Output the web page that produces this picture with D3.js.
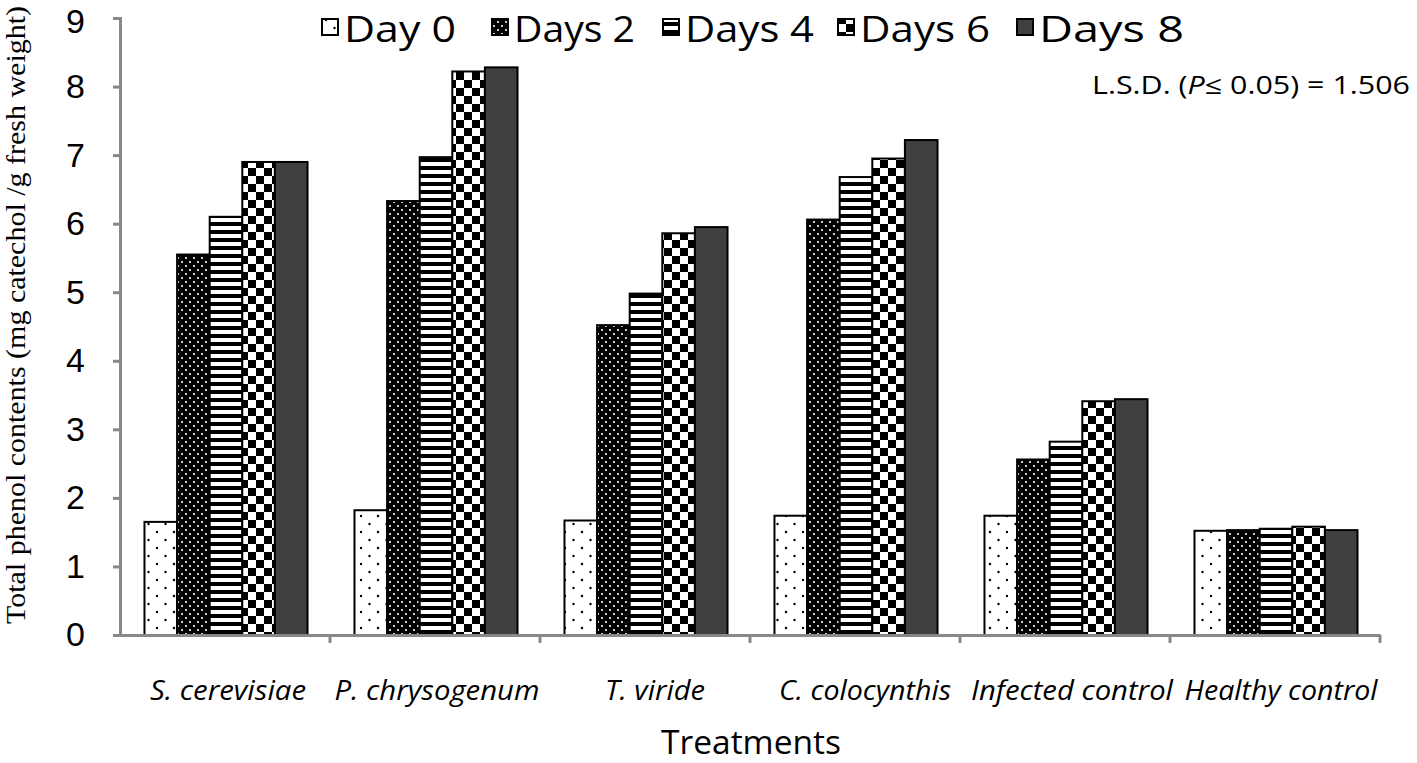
<!DOCTYPE html>
<html><head><meta charset="utf-8">
<script src="https://cdn.jsdelivr.net/npm/d3@7"></script>
<style>body{margin:0;background:#fff}svg{display:block}</style>
</head><body>
<svg id="c" width="1417" height="763"></svg>
<script>
const categories = ["S. cerevisiae","P. chrysogenum","T. viride","C. colocynthis","Infected control","Healthy control"];
const seriesNames = ["Day 0","Days 2","Days 4","Days 6","Days 8"];
const day0 = [1.65,1.82,1.67,1.74,1.74,1.52];
const days2 = [5.55,6.33,4.52,6.06,2.56,1.53];
const days4 = [6.10,6.97,4.98,6.68,2.82,1.55];
const days6 = [6.90,8.22,5.86,6.95,3.41,1.58];
const days8 = [6.90,8.28,5.95,7.22,3.44,1.53];
const yTicks = [0,1,2,3,4,5,6,7,8,9];
const seriesValues = [day0,days2,days4,days6,days8];

const svg = d3.select("#c");
const defs = svg.append("defs");
let p = defs.append("pattern").attr("id","p0").attr("patternUnits","userSpaceOnUse").attr("width",17).attr("height",16);
p.append("rect").attr("width",17).attr("height",16).attr("fill","#fff");
p.append("circle").attr("cx",4).attr("cy",4).attr("r",1.2).attr("fill","#000");
p.append("circle").attr("cx",12.5).attr("cy",12).attr("r",1.2).attr("fill","#000");
p = defs.append("pattern").attr("id","p1").attr("patternUnits","userSpaceOnUse").attr("width",8).attr("height",8);
p.append("rect").attr("width",8).attr("height",8).attr("fill","#000");
p.append("circle").attr("cx",2).attr("cy",2).attr("r",1.1).attr("fill","#fff");
p.append("circle").attr("cx",6).attr("cy",6).attr("r",1.1).attr("fill","#fff");
p = defs.append("pattern").attr("id","p2").attr("patternUnits","userSpaceOnUse").attr("width",8).attr("height",8);
p.append("rect").attr("width",8).attr("height",8).attr("fill","#000");
p.append("rect").attr("y",2).attr("width",8).attr("height",4).attr("fill","#fff");
p = defs.append("pattern").attr("id","p3").attr("patternUnits","userSpaceOnUse").attr("width",16).attr("height",16);
p.append("rect").attr("width",16).attr("height",16).attr("fill","#fff");
p.append("rect").attr("width",8).attr("height",8).attr("fill","#000");
p.append("rect").attr("x",8).attr("y",8).attr("width",8).attr("height",8).attr("fill","#000");
const fills = ["url(#p0)","url(#p1)","url(#p2)","url(#p3)","#404040"];

const x0 = d3.scaleBand().domain(categories).range([120,1380]).paddingInner(0).paddingOuter(0);
const x1 = d3.scaleBand().domain(seriesNames).range([0,x0.bandwidth()]).paddingOuter(0.72).paddingInner(0);
const y = d3.scaleLinear().domain([0,9]).range([635,18]);

categories.forEach((c,ci)=>{
  seriesNames.forEach((s,si)=>{
    const v = seriesValues[si][ci];
    svg.append("rect")
      .attr("x",x0(c)+x1(s)+1).attr("y",y(v))
      .attr("width",x1.bandwidth()).attr("height",y(0)-y(v))
      .attr("fill",fills[si]).attr("stroke","#000").attr("stroke-width",2);
  });
});

const yAxis = svg.append("g").attr("transform","translate(120,0)")
  .call(d3.axisLeft(y).tickValues(yTicks).tickSize(7).tickPadding(28).tickFormat(d3.format("d")));
yAxis.select(".domain").attr("stroke","#888").attr("stroke-width",3);
yAxis.selectAll(".tick line").attr("stroke","#888").attr("stroke-width",3);
yAxis.selectAll("text").attr("font-family","Liberation Sans, Arial, sans-serif").attr("font-size",34).attr("fill","#000")
  .filter(d=>d===9).attr("dy","0.42em");

const xAxis = svg.append("g").attr("transform","translate(0,635)")
  .call(d3.axisBottom(x0).tickSize(0).tickFormat(""));
xAxis.select(".domain").attr("stroke","#888").attr("stroke-width",3);
const bounds = categories.map(c=>x0(c)+x0.bandwidth());
svg.append("g").selectAll("line").data(bounds).join("line")
  .attr("x1",d=>d).attr("x2",d=>d).attr("y1",635).attr("y2",643)
  .attr("stroke","#888").attr("stroke-width",3);

const labOff = [3,2,10,10,7,6];
const labLen = [156,205,100,172,202,193];
svg.append("g").selectAll("text").data(categories).join("text")
  .attr("x",(d,i)=>x0(d)+x0.bandwidth()/2+labOff[i]).attr("y",700)
  .attr("text-anchor","middle").attr("font-style","italic")
  .attr("font-family","Open Sans, sans-serif").attr("font-size",27)
  .attr("textLength",(d,i)=>labLen[i]).attr("lengthAdjust","spacingAndGlyphs")
  .text(d=>d);

svg.append("text").attr("x",751).attr("y",754).attr("text-anchor","middle")
  .attr("font-family","Open Sans, sans-serif").attr("font-size",32)
  .attr("textLength",180).attr("lengthAdjust","spacingAndGlyphs").text("Treatments");

svg.append("text").attr("transform","translate(25,315) rotate(-90)").attr("text-anchor","middle")
  .attr("font-family","Liberation Serif, Times New Roman, serif").attr("font-size",27)
  .attr("textLength",618).attr("lengthAdjust","spacingAndGlyphs")
  .text("Total phenol contents (mg catechol /g fresh weight)");

const lsd = svg.append("text").attr("x",1092).attr("y",94)
  .attr("font-family","Open Sans, sans-serif").attr("font-size",25)
  .attr("textLength",318).attr("lengthAdjust","spacingAndGlyphs");
lsd.append("tspan").text("L.S.D. (");
lsd.append("tspan").attr("font-style","italic").text("P");
lsd.append("tspan").text("≤ 0.05) = 1.506");

const legX = [322,492,663,838,1017];
const legW = [112,121,129,130,145];
const lg = svg.append("g").selectAll("g").data(seriesNames).join("g")
  .attr("transform",(d,i)=>`translate(${legX[i]},0)`);
lg.append("rect").attr("x",0).attr("y",19).attr("width",16).attr("height",16)
  .attr("fill",(d,i)=>fills[i]).attr("stroke","#000").attr("stroke-width",2);
lg.append("text").attr("x",22).attr("y",42)
  .attr("font-family","'Liberation Sans Narrow', 'Open Sans', sans-serif").attr("font-size",36)
  .attr("textLength",(d,i)=>legW[i]).attr("lengthAdjust","spacingAndGlyphs")
  .text(d=>d);
</script>
</body></html>
